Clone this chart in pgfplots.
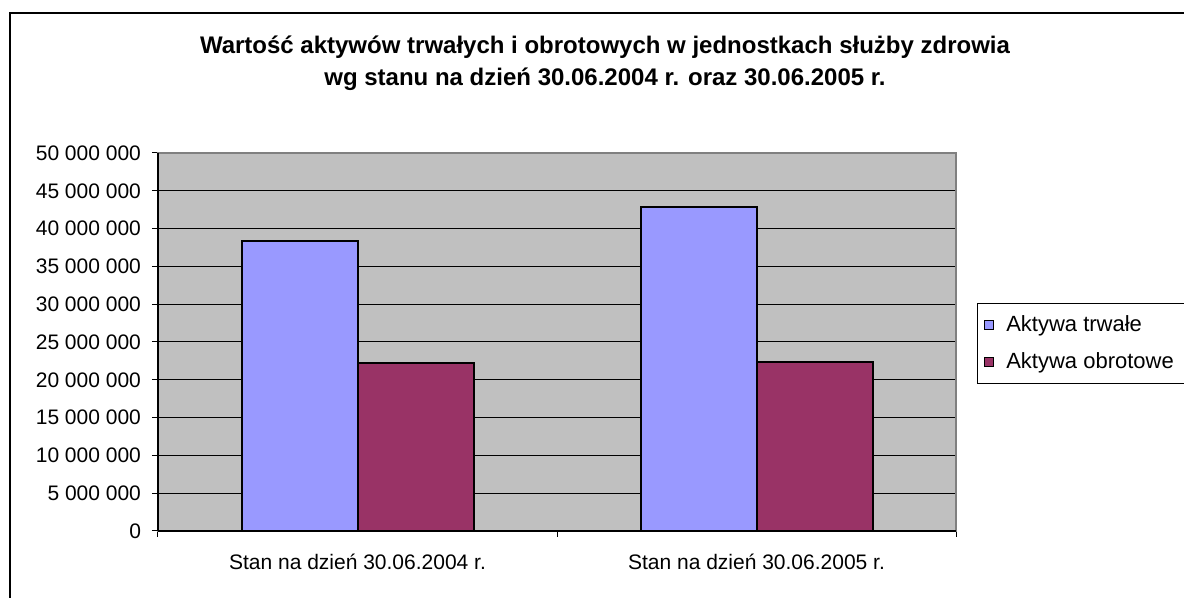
\documentclass[border=0pt]{standalone}
\usepackage{pgfplots}
\pgfplotsset{compat=1.18}
\usepackage{fontspec}
\setmainfont{Liberation Sans}
\definecolor{trwale}{HTML}{9999FF}
\definecolor{obrotowe}{HTML}{993366}
\definecolor{plotbg}{HTML}{C0C0C0}

\begin{document}
\begin{tikzpicture}
\useasboundingbox (0pt,0pt) rectangle (592pt,299pt);
\draw[black,line width=0.6pt] (5pt,-10pt) -- (5pt,292.5pt) -- (610pt,292.5pt);
\node[font=\fontsize{12}{14}\selectfont\bfseries, align=center] at (302.5pt,267.5pt)
  {Wartość aktywów trwałych i obrotowych w jednostkach służby zdrowia\\[2pt]
   wg stanu na dzień 30.06.2004 r. oraz 30.06.2005 r.};
\begin{axis}[
    at={(79pt,33.5pt)}, anchor=south west,
    width=399pt, height=189pt, scale only axis,
    ybar=0pt, bar width=58pt,
    xmin=0.5, xmax=2.5,
    ymin=0, ymax=50000000,
    xtick={1,2},
    xticklabels={Stan na dzień 30.06.2004 r., Stan na dzień 30.06.2005 r.},
    minor xtick={0.5,1.5,2.5},
    major x tick style={draw=none},
    minor x tick style={black, line width=0.5pt},
    minor tick length=3pt,
    ytick={0,5000000,10000000,15000000,20000000,25000000,30000000,35000000,40000000,45000000,50000000},
    yticklabels={0,5 000 000,10 000 000,15 000 000,20 000 000,25 000 000,30 000 000,35 000 000,40 000 000,45 000 000,50 000 000},
    scaled y ticks=false,
    tick align=outside,
    major tick length=3pt,
    y tick style={black, line width=0.5pt},
    xtick pos=bottom, ytick pos=left,
    ymajorgrids,
    grid style={black, line width=0.5pt},
    axis background/.style={fill=plotbg},
    axis line style={draw=gray, line width=0.6pt},
    tick label style={font=\fontsize{10.5}{12}\selectfont},
    xticklabel style={yshift=-5pt},
    yticklabel style={xshift=-2pt},
    legend style={at={(axis description cs:1,1)}, anchor=north west, xshift=10.5pt, yshift=-75pt,
      draw=black, line width=0.5pt, font=\fontsize{11}{12}\selectfont,
      inner xsep=3pt, inner ysep=4pt, row sep=5pt, cells={anchor=west}},
    legend image code/.code={\draw[#1, draw=black, line width=0.8pt] (0.5pt,-2.3pt) rectangle (5.1pt,2.3pt); \path (9pt,0pt);},
    clip=false,
]
\addplot[fill=trwale, draw=black, line width=1pt] coordinates {(1,38360000) (2,42820000)};
\addlegendentry{Aktywa trwałe}
\addplot[fill=obrotowe, draw=black, line width=1pt] coordinates {(1,22180000) (2,22400000)};
\addlegendentry{Aktywa obrotowe\hphantom{MMMM}}
\draw[black, line width=0.6pt] (rel axis cs:0,0) -- (rel axis cs:0,1);
\draw[black, line width=0.6pt] (rel axis cs:0,0) -- (rel axis cs:1,0);
\end{axis}
\end{tikzpicture}
\end{document}
